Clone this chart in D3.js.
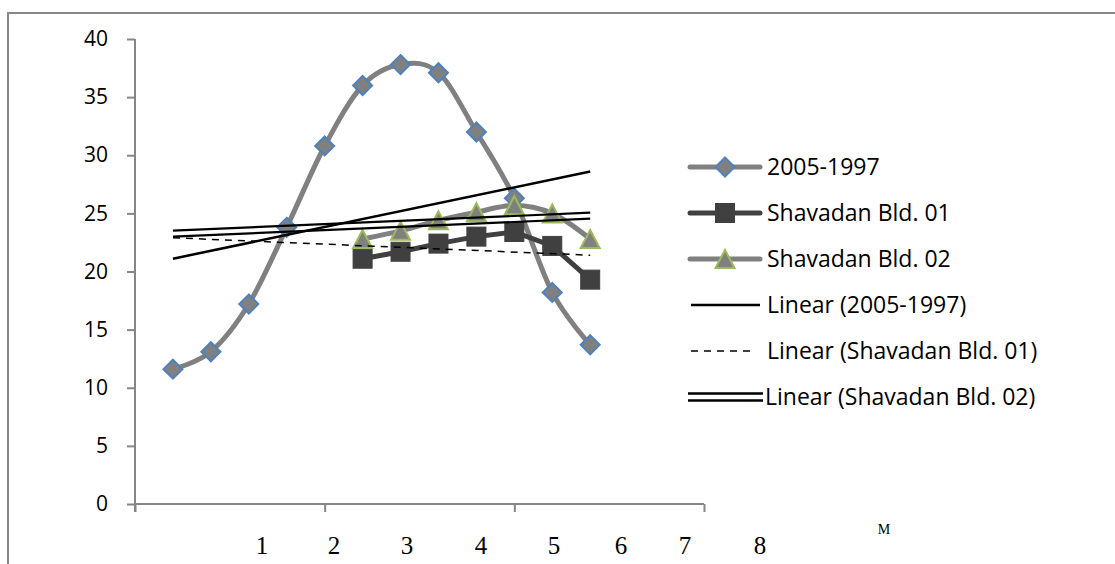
<!DOCTYPE html>
<html><head><meta charset="utf-8">
<script src="https://cdn.jsdelivr.net/npm/d3@7"></script>
<style>body{margin:0;background:#fff;} svg{display:block}</style>
</head><body><svg id="c" width="1115" height="564"></svg>
<script>
// ---- data ----
const categories = [1,2,3,4,5,6,7,8,9,10,11,12];
const series2005 = [11.6,13.1,17.2,23.8,30.8,36.0,37.8,37.1,32.0,26.3,18.2,13.7];
const seriesBld01 = [null,null,null,null,null,21.1,21.7,22.4,23.0,23.4,22.2,19.3];
const seriesBld02 = [null,null,null,null,null,22.8,23.5,24.4,25.1,25.7,25.0,22.8];
const trend2005 = [21.1, 28.6];   // value at first / last category
const trendBld01 = [22.9, 21.4];
const trendBld02 = [23.25, 24.8];
const yTicks = [0,5,10,15,20,25,30,35,40];
const xTicks = [0,5,10,15];
const xLabels = ["1","2","3","4","5","6","7","8"];
const unitLabel = "M";
const legendNames = ["2005-1997","Shavadan Bld. 01","Shavadan Bld. 02","Linear (2005-1997)","Linear (Shavadan Bld. 01)","Linear (Shavadan Bld. 02)"];

// ---- layout ----
const svg = d3.select("#c");
const x = d3.scaleLinear().domain([0,15]).range([135,704]);
const y = d3.scaleLinear().domain([0,40]).range([504,39]);
const axisColor = "#868686";
const font = "'Open Sans', 'Noto Sans', sans-serif";

svg.append("rect").attr("x",8).attr("y",13).attr("width",1130).attr("height",580)
  .attr("fill","none").attr("stroke","#878787").attr("stroke-width",2);

const yAxis = svg.append("g").attr("transform","translate(135,0)")
  .call(d3.axisLeft(y).tickValues(yTicks).tickSize(8).tickPadding(19));
const xAxis = svg.append("g").attr("transform","translate(0,504)")
  .call(d3.axisBottom(x).tickValues(xTicks).tickSize(8).tickFormat(""));
[yAxis,xAxis].forEach(a=>{
  a.selectAll("path,line").attr("stroke",axisColor).attr("stroke-width",2);
  a.select(".domain").attr("d", null);
});
svg.append("line").attr("x1",135).attr("x2",135).attr("y1",y(40)).attr("y2",y(0)+8)
  .attr("stroke",axisColor).attr("stroke-width",2);
svg.append("line").attr("x1",x(0)).attr("x2",x(15)).attr("y1",504).attr("y2",504)
  .attr("stroke",axisColor).attr("stroke-width",2);
yAxis.selectAll("text").attr("font-family",font).attr("font-size",21).attr("fill","#000");

const xLabelX = [262,334,407,481,554,621,685,760];
svg.selectAll(".xl").data(xLabels).enter().append("text")
  .attr("x",(d,i)=>xLabelX[i]).attr("y",554).attr("text-anchor","middle")
  .attr("font-family","'Liberation Serif', 'DejaVu Serif', serif").attr("font-size",25)
  .text(d=>d);
svg.append("text").attr("x",884).attr("y",534).attr("text-anchor","middle")
  .attr("font-family","'Liberation Serif', serif").attr("font-size",14).text(unitLabel);

// ---- series ----
const gray = "#808080", dark = "#404040", blue = "#4F81BD", green = "#9BBB59";
function pts(vals){ return categories.map((c,i)=>({c, v: vals[i]})).filter(d=>d.v!=null); }

const smooth = d3.line().x(d=>x(d.c)).y(d=>y(d.v)).curve(d3.curveCardinal.tension(0));
const straight = d3.line().x(d=>x(d.c)).y(d=>y(d.v));

function diamond(g, cx, cy){
  const s = 9.5;
  g.append("path").attr("d",`M${cx},${cy-s}L${cx+s},${cy}L${cx},${cy+s}L${cx-s},${cy}Z`)
   .attr("fill",gray).attr("stroke",blue).attr("stroke-width",2);
}
function square(g, cx, cy){
  const s = 19;
  g.append("rect").attr("x",cx-s/2).attr("y",cy-s/2).attr("width",s).attr("height",s)
   .attr("fill",dark).attr("stroke",dark).attr("stroke-width",1);
}
function triangle(g, cx, cy){
  const w = 19, h = 18;
  g.append("path").attr("d",`M${cx},${cy-h/2}L${cx+w/2},${cy+h/2}L${cx-w/2},${cy+h/2}Z`)
   .attr("fill",gray).attr("stroke",green).attr("stroke-width",2).attr("stroke-linejoin","miter");
}

const plot = svg.append("g");
const p1 = pts(series2005);
plot.append("path").attr("d",smooth(p1)).attr("fill","none").attr("stroke",gray)
  .attr("stroke-width",5).attr("stroke-linecap","round");
p1.forEach(d=>diamond(plot,x(d.c),y(d.v)));
const p2 = pts(seriesBld01);
plot.append("path").attr("d",straight(p2)).attr("fill","none").attr("stroke",dark)
  .attr("stroke-width",5).attr("stroke-linejoin","round");
p2.forEach(d=>square(plot,x(d.c),y(d.v)));
const p3 = pts(seriesBld02);
plot.append("path").attr("d",smooth(p3)).attr("fill","none").attr("stroke",gray)
  .attr("stroke-width",5).attr("stroke-linecap","round");
p3.forEach(d=>triangle(plot,x(d.c),y(d.v)));

// ---- trendlines ----
const c0 = categories[0], c1 = categories[categories.length-1];
function trendPts(t){ return [{c:c0,v:t[0]},{c:c1,v:t[1]}]; }
plot.append("path").attr("d",straight(trendPts(trend2005))).attr("stroke","#000")
  .attr("stroke-width",2.5).attr("fill","none");
plot.append("path").attr("d",straight(trendPts(trendBld01))).attr("stroke","#000")
  .attr("stroke-width",1.5).attr("stroke-dasharray","7,6").attr("fill","none");
[-3,3].forEach(off=>{
  plot.append("path").attr("d",straight(trendPts(trendBld02))).attr("stroke","#000")
    .attr("stroke-width",2.2).attr("fill","none").attr("transform",`translate(0,${off})`);
});

// ---- legend ----
const legY = [167,213,259,305,351,397];
const lg = svg.append("g");
const lx0 = 690, lx1 = 760, lmid = 725;
lg.append("line").attr("x1",lx0).attr("x2",lx1).attr("y1",legY[0]).attr("y2",legY[0])
  .attr("stroke",gray).attr("stroke-width",5).attr("stroke-linecap","round");
diamond(lg,lmid,legY[0]);
lg.append("line").attr("x1",lx0).attr("x2",lx1).attr("y1",legY[1]).attr("y2",legY[1])
  .attr("stroke",dark).attr("stroke-width",5).attr("stroke-linecap","round");
square(lg,lmid,legY[1]);
lg.append("line").attr("x1",lx0).attr("x2",lx1).attr("y1",legY[2]).attr("y2",legY[2])
  .attr("stroke",gray).attr("stroke-width",5).attr("stroke-linecap","round");
triangle(lg,lmid,legY[2]);
lg.append("line").attr("x1",lx0+1).attr("x2",lx1).attr("y1",legY[3]).attr("y2",legY[3])
  .attr("stroke","#000").attr("stroke-width",2.5);
lg.append("line").attr("x1",lx0+1).attr("x2",lx1-5).attr("y1",legY[4]).attr("y2",legY[4])
  .attr("stroke","#000").attr("stroke-width",1.5).attr("stroke-dasharray","7,6");
[-3.5,3.5].forEach(off=>lg.append("line").attr("x1",lx0-2).attr("x2",lx1+3)
  .attr("y1",legY[5]+off).attr("y2",legY[5]+off).attr("stroke","#000").attr("stroke-width",2.5));
lg.selectAll(".lt").data(legendNames).enter().append("text")
  .attr("x",(d,i)=> i===5 ? 765 : 767).attr("y",(d,i)=>legY[i]).attr("dy","0.35em")
  .attr("font-family",font).attr("font-size",23).attr("fill","#000").text(d=>d);
</script>
</body></html>
